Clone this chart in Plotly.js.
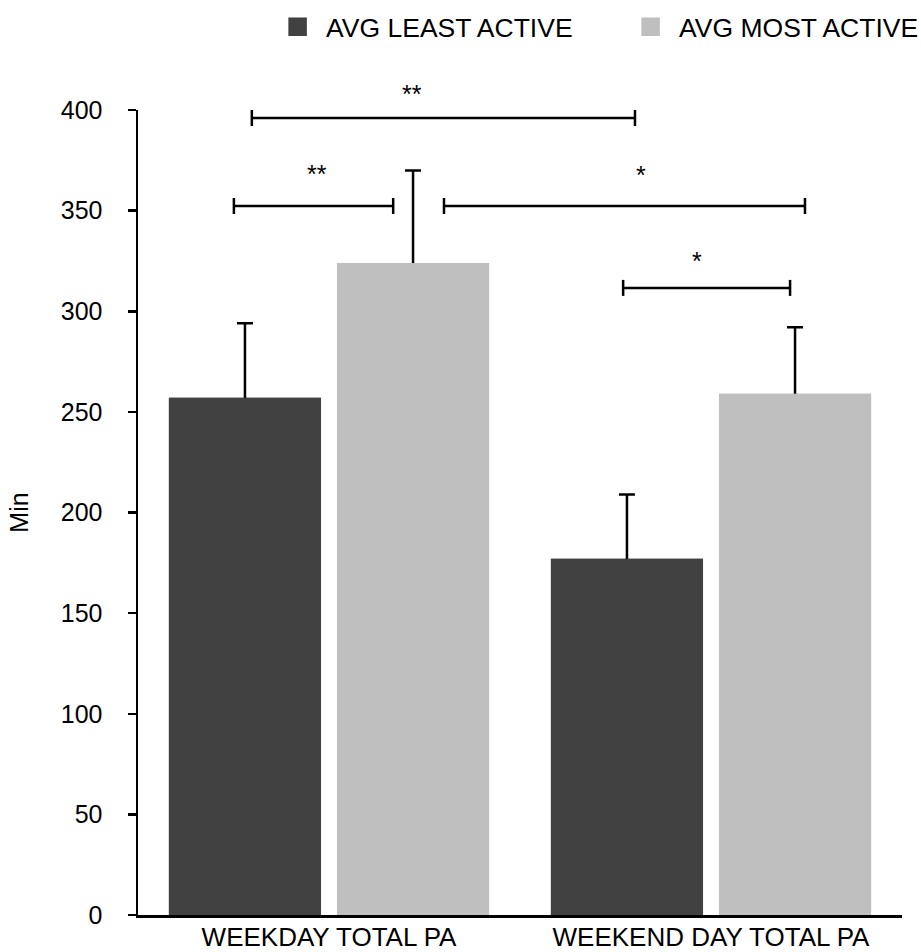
<!DOCTYPE html>
<html>
<head>
<meta charset="utf-8">
<script src="https://cdn.plot.ly/plotly-3.0.1.min.js"></script>
<style>html,body{margin:0;padding:0;background:#fff;}#chart{width:921px;height:952px;}</style>
</head>
<body>
<div id="chart"></div>
<script>
// ---- data ----
var categories = ["WEEKDAY TOTAL PA", "WEEKEND DAY TOTAL PA"];
var seriesNames = ["AVG LEAST ACTIVE", "AVG MOST ACTIVE"];
var leastActive = [257, 177];
var leastActiveErr = [37, 32];
var mostActive = [324, 259];
var mostActiveErr = [46, 33];
var yTicks = [0, 50, 100, 150, 200, 250, 300, 350, 400];
// significance brackets (x in category-index units, y in minutes)
var bracketX0 = [-0.202, -0.249, 0.301, 0.770];
var bracketX1 = [0.801, 0.168, 1.246, 1.207];
var bracketY = [396, 352.3, 352.3, 311.6];
var bracketLabel = ["**", "**", "*", "*"];
var bracketLabelX = [0.217, -0.031, 0.817, 0.963];

// ---- style ----
var DARK = "#414141", LIGHT = "#bfbfbf";
var FONT = "Liberation Sans, Arial, sans-serif";
var labelShiftPx = [24, 32, 31, 27];

function errTrace(name, vals, errs, color, grp) {
  return {
    type: "bar", x: categories, y: vals, name: name, offsetgroup: grp,
    marker: {color: color}, showlegend: false, hoverinfo: "skip",
    error_y: {type: "data", symmetric: false, array: errs, arrayminus: vals,
              color: "#000", thickness: 2.5, width: 8}
  };
}
function coverTrace(name, vals, color, grp) {
  return {
    type: "bar", x: categories, y: vals, name: name, offsetgroup: grp,
    marker: {color: color}, showlegend: false
  };
}
function legendTrace(name, color) {
  return {
    type: "scatter", mode: "markers", x: [null], y: [null], name: name,
    marker: {symbol: "square", size: 16, color: color, line: {color: color, width: 2.5}}
  };
}

var data = [
  errTrace(seriesNames[0], leastActive, leastActiveErr, DARK, "a"),
  errTrace(seriesNames[1], mostActive, mostActiveErr, LIGHT, "b"),
  coverTrace(seriesNames[0], leastActive, DARK, "a"),
  coverTrace(seriesNames[1], mostActive, LIGHT, "b"),
  legendTrace(seriesNames[0], DARK),
  legendTrace(seriesNames[1], LIGHT)
];

var shapes = [], annotations = [];
for (var i = 0; i < bracketX0.length; i++) {
  var ln = {color: "#000", width: 2.5};
  shapes.push({type: "line", xref: "x", yref: "y", x0: bracketX0[i], x1: bracketX1[i], y0: bracketY[i], y1: bracketY[i], line: ln});
  shapes.push({type: "line", xref: "x", yref: "y", ysizemode: "pixel", yanchor: bracketY[i], x0: bracketX0[i], x1: bracketX0[i], y0: -8, y1: 8, line: ln});
  shapes.push({type: "line", xref: "x", yref: "y", ysizemode: "pixel", yanchor: bracketY[i], x0: bracketX1[i], x1: bracketX1[i], y0: -8, y1: 8, line: ln});
  annotations.push({xref: "x", yref: "y", x: bracketLabelX[i], y: bracketY[i], yshift: labelShiftPx[i], text: bracketLabel[i],
    showarrow: false, xanchor: "center", yanchor: "middle", font: {family: FONT, size: 25, color: "#000"}});
}

var layout = {
  width: 921, height: 952,
  margin: {l: 138, r: 19, t: 110, b: 37},
  paper_bgcolor: "#fff", plot_bgcolor: "#fff",
  font: {family: FONT, size: 25, color: "#000"},
  barmode: "group", bargap: 0.12, bargroupgap: 0.095,
  showlegend: true,
  legend: {orientation: "h", xref: "container", yref: "container", x: 0.2922, y: 0.9968, xanchor: "left", yanchor: "top",
           font: {family: FONT, size: 26.5, color: "#000"}, itemwidth: 47, entrywidth: 291, traceorder: "normal"},
  xaxis: {type: "category", range: [-0.5, 1.5], showgrid: false, zeroline: false, showline: true,
          linecolor: "#000", linewidth: 2.5, ticks: "", ticklabelstandoff: -3,
          tickfont: {family: FONT, size: 26, color: "#000"}, fixedrange: true},
  yaxis: {range: [0, 400], tickvals: yTicks, ticktext: yTicks.map(String), showgrid: false, zeroline: false,
          showline: true, linecolor: "#000", linewidth: 2.5, ticks: "outside", ticklen: 8, tickwidth: 2.5,
          tickcolor: "#000", ticklabelstandoff: 20, tickfont: {family: FONT, size: 25, color: "#000"},
          title: {text: "Min", font: {family: FONT, size: 25, color: "#000"}, standoff: 25}, fixedrange: true},
  shapes: shapes,
  annotations: annotations
};

Plotly.newPlot("chart", data, layout, {displayModeBar: false, staticPlot: true});
</script>
</body>
</html>
